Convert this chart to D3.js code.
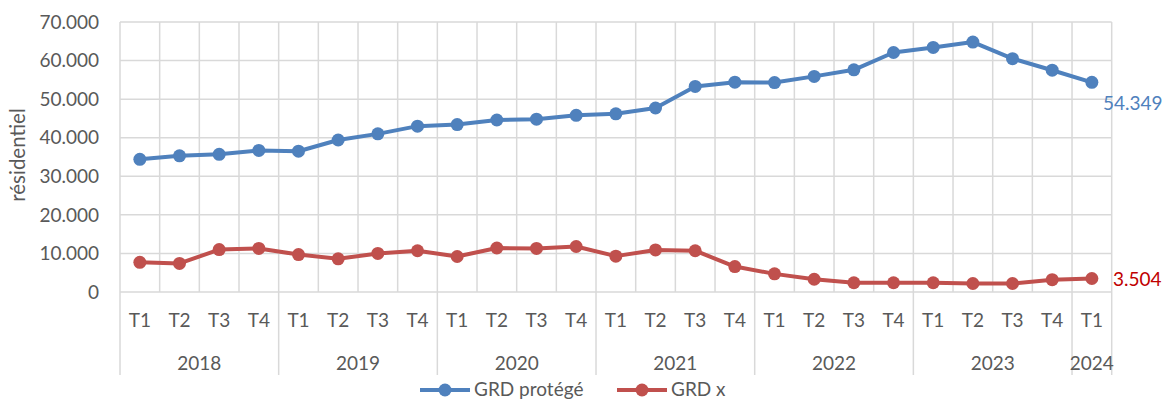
<!DOCTYPE html>
<html><head><meta charset="utf-8">
<script src="https://cdn.jsdelivr.net/npm/d3@7"></script>
<style>
html,body{margin:0;padding:0;background:#fff;}
svg{display:block;font-family:Lato, "Open Sans", sans-serif;}
</style></head>
<body>
<svg id="chart" width="1164" height="401"></svg>
<script>
const years = ["2018","2019","2020","2021","2022","2023","2024"];
const quarters = ["T1","T2","T3","T4"];
const categories = [
 "2018-T1","2018-T2","2018-T3","2018-T4",
 "2019-T1","2019-T2","2019-T3","2019-T4",
 "2020-T1","2020-T2","2020-T3","2020-T4",
 "2021-T1","2021-T2","2021-T3","2021-T4",
 "2022-T1","2022-T2","2022-T3","2022-T4",
 "2023-T1","2023-T2","2023-T3","2023-T4",
 "2024-T1"];
const grdProtege = [34400,35300,35700,36700,36500,39400,41000,43000,43400,44600,44800,45800,46200,47700,53300,54400,54300,55900,57600,62100,63400,64800,60500,57500,54349];
const grdX = [7700,7400,11000,11300,9700,8600,10000,10700,9200,11400,11300,11800,9300,10900,10700,6600,4700,3300,2400,2400,2400,2200,2200,3200,3504];
const yTicks = [0,10000,20000,30000,40000,50000,60000,70000];
const seriesNames = ["GRD protégé","GRD x"];
const lastLabels = ["54.349","3.504"];

(function(){
const svg = d3.select("#chart");
const pL = 120, pR = 1111.7, pT = 22, pB = 292;
const x = d3.scaleBand().domain(categories).range([pL, pR]).padding(0);
const y = d3.scaleLinear().domain([0,70000]).range([pB, pT]);
const grid = "#d9d9d9", txt = "#595959", fs = 19;
const fmt = v => v === 0 ? "0" : d3.format(",")(v).replace(/,/g, ".");

svg.append("g").selectAll("line").data(yTicks).join("line")
  .attr("x1", pL).attr("x2", pR)
  .attr("y1", d => y(d)).attr("y2", d => y(d))
  .attr("stroke", grid).attr("stroke-width", 1.5);
const bounds = categories.map(c => x(c)).concat([pR]);
svg.append("g").selectAll("line").data(bounds).join("line")
  .attr("x1", d => d).attr("x2", d => d)
  .attr("y1", pT).attr("y2", pB)
  .attr("stroke", grid).attr("stroke-width", 1.5);
const yearStarts = years.map(yr => categories.findIndex(c => c.startsWith(yr)));
const yearBounds = yearStarts.map(i => x(categories[i])).concat([pR]);
svg.append("g").selectAll("line").data(yearBounds).join("line")
  .attr("x1", d => d).attr("x2", d => d)
  .attr("y1", pB).attr("y2", 375)
  .attr("stroke", grid).attr("stroke-width", 1.5);

svg.append("g").selectAll("text").data(yTicks).join("text")
  .attr("x", 99).attr("y", d => y(d)).attr("dy", "0.35em")
  .attr("text-anchor", "end").attr("fill", txt).attr("font-size", fs)
  .text(fmt);
svg.append("text").attr("transform", "translate(25,155) rotate(-90)")
  .attr("text-anchor", "middle").attr("fill", txt).attr("font-size", 20.5)
  .text("résidentiel");

svg.append("g").selectAll("text").data(categories).join("text")
  .attr("x", d => x(d) + x.bandwidth()/2).attr("y", 320).attr("dy", "0.35em")
  .attr("text-anchor", "middle").attr("fill", txt).attr("font-size", fs)
  .text(d => d.split("-")[1]);
svg.append("g").selectAll("text").data(years).join("text")
  .attr("x", (d, i) => (yearBounds[i] + yearBounds[i+1]) / 2).attr("y", 363).attr("dy", "0.35em")
  .attr("text-anchor", "middle").attr("fill", txt).attr("font-size", fs)
  .text(d => d);

const colors = ["#4f81bd", "#c0504d"];
const labelColors = ["#4f81bd", "#c00000"];
const data = [grdProtege, grdX];
const line = d3.line().x((d, i) => x(categories[i]) + x.bandwidth()/2).y(d => y(d));
data.forEach((s, k) => {
  svg.append("path").datum(s).attr("d", line)
    .attr("fill", "none").attr("stroke", colors[k]).attr("stroke-width", 4)
    .attr("stroke-linejoin", "round");
  svg.append("g").selectAll("circle").data(s).join("circle")
    .attr("cx", (d, i) => x(categories[i]) + x.bandwidth()/2)
    .attr("cy", d => y(d)).attr("r", 6.5).attr("fill", colors[k]);
});
svg.append("text").attr("x", 1103).attr("y", y(grdProtege[24]) + 21).attr("dy", "0.35em")
  .attr("fill", labelColors[0]).attr("font-size", fs).text(lastLabels[0]);
svg.append("text").attr("x", 1113).attr("y", y(grdX[24]) + 1).attr("dy", "0.35em")
  .attr("fill", labelColors[1]).attr("font-size", fs).text(lastLabels[1]);

const legX = [420, 617];
seriesNames.forEach((n, k) => {
  const g = svg.append("g");
  g.append("line").attr("x1", legX[k]).attr("x2", legX[k] + 50).attr("y1", 390).attr("y2", 390)
    .attr("stroke", colors[k]).attr("stroke-width", 4);
  g.append("circle").attr("cx", legX[k] + 25).attr("cy", 390).attr("r", 6.5).attr("fill", colors[k]);
  g.append("text").attr("x", legX[k] + 54).attr("y", 396).attr("fill", txt).attr("font-size", fs).text(n);
});
})();
</script>
</body></html>
